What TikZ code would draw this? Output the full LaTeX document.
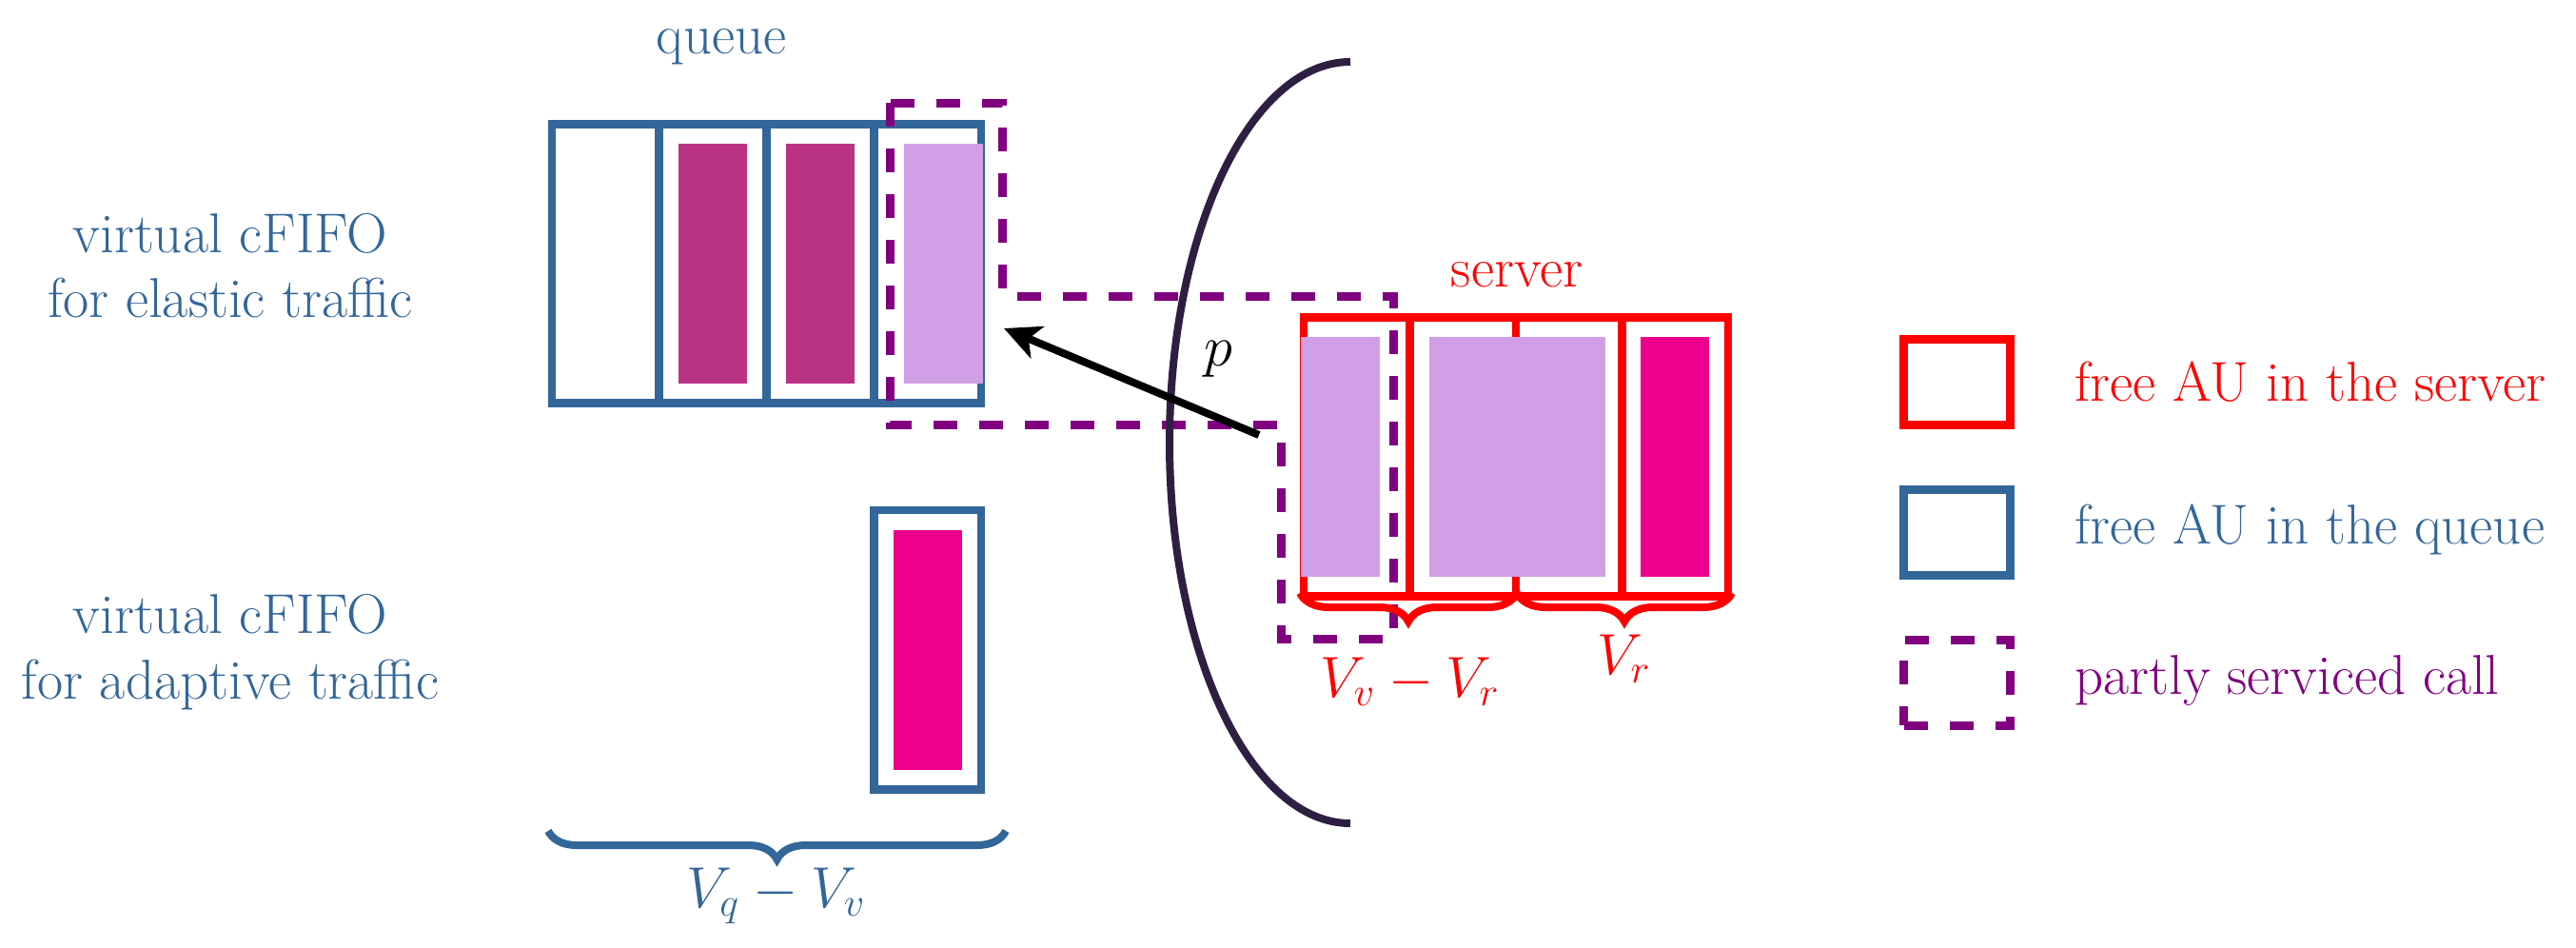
\documentclass[tikz,border=0pt]{standalone}
\usepackage{amsmath, amssymb}
\usepackage{xcolor}
\usepackage{tikz}
\usetikzlibrary{arrows.meta, decorations.pathreplacing}

\definecolor{qblue}{RGB}{51,102,153}
\definecolor{callmag}{RGB}{186,51,131}
\definecolor{partlil}{RGB}{209,159,230}
\definecolor{adapmag}{RGB}{236,0,140}
\definecolor{dashpur}{RGB}{128,0,128}
\definecolor{arcnavy}{RGB}{46,31,66}

\begin{document}
\begin{tikzpicture}[
            font=\fontsize{16.8pt}{19.5pt}\selectfont,
            qcell/.style={rectangle, draw=qblue, line width=0.087cm, minimum width=1.1275cm, minimum height=2.935cm, inner sep=0pt},
            scell/.style={rectangle, draw=red, line width=0.087cm, minimum width=1.115cm, minimum height=2.93cm, inner sep=0pt},
            callfill/.style={rectangle, fill=#1, minimum width=0.72cm, minimum height=2.52cm, inner sep=0pt},
            partfill/.style={rectangle, fill=partlil, minimum width=0.83cm, minimum height=2.52cm, inner sep=0pt},
            partly/.style={draw=dashpur, line width=0.09cm, dash pattern=on 0.25cm off 0.23cm},
            arrow/.style={->, >={Stealth[length=0.38cm, width=0.36cm, inset=0.1cm]}, line width=0.08cm},
            vbrace/.style={decorate, decoration={brace, mirror, amplitude=0.3cm}, line width=0.08cm},
            legbox/.style={rectangle, line width=0.087cm, minimum width=1.12cm, minimum height=0.9cm, inner sep=0pt}
        ]
            \useasboundingbox (0,0) rectangle (27.07,9.95);

            % queue
            \node[qcell] (q1) at (6.364,7.18)  {};
            \node[qcell] (q2) at (7.4915,7.18) {};
            \node[qcell] (q3) at (8.619,7.18)  {};
            \node[qcell] (q4) at (9.7465,7.18) {};
            \node[callfill=callmag] (c2) at (7.4915,7.18) {};
            \node[callfill=callmag] (c3) at (8.619,7.18)  {};
            \node[partfill] (pq) at (9.915,7.18) {};

            \node[qcell] (a1) at (9.7465,3.1225) {};
            \node[callfill=adapmag] (ca) at (9.7465,3.1225) {};

            % server
            \node[scell] (s1) at (14.2575,5.15) {};
            \node[scell] (s2) at (15.3725,5.15) {};
            \node[scell] (s3) at (16.4875,5.15) {};
            \node[scell] (s4) at (17.6025,5.15) {};
            \node[partfill] (ps) at (14.085,5.15) {};
            \node[callfill=partlil, minimum width=1.85cm] (cs) at (15.945,5.15) {};
            \node[callfill=adapmag] (c4) at (17.6025,5.15) {};

            \draw[partly] (9.355,8.865) -- (10.535,8.865) -- (10.535,6.835) -- (14.645,6.835)
                -- (14.645,3.235) -- (13.465,3.235) -- (13.465,5.485) -- (9.355,5.485) -- cycle;

            \draw[arcnavy, line width=0.08cm] (14.19,9.30) arc[start angle=90, end angle=270, x radius=1.9cm, y radius=4.0cm];

            \coordinate (ptail) at (13.23,5.38);
            \coordinate (phead) at (10.55,6.50);
            \draw[arrow] (ptail) -- (phead);
            \node (plbl) at (12.80,6.18) {$p$};

            % labels
            \node[text=qblue, anchor=base] (qlbl) at (7.58,9.38) {queue};
            \node[text=red, anchor=base] (slbl) at (15.94,6.94) {server};
            \node[text=qblue, align=center] (elab) at (2.42,7.16) {virtual cFIFO\\for elastic traffic};
            \node[text=qblue, align=center] (alab) at (2.42,3.10) {virtual cFIFO\\for adaptive traffic};

            \draw[vbrace, draw=red] (13.66,3.72) -- (15.94,3.72);
            \draw[vbrace, draw=red] (15.94,3.72) -- (18.20,3.72);
            \draw[vbrace, draw=qblue] (5.76,1.22) -- (10.57,1.22);
            \node[text=red, anchor=base] (vvr) at (14.82,2.63) {$V_v - V_r$};
            \node[text=red, anchor=base] (vr) at (17.07,2.87) {$V_r$};
            \node[text=qblue, anchor=base] (vqv) at (8.16,0.42) {$V_q - V_v$};

            % legend
            \node[legbox, draw=red] (lsrv) at (20.565,5.935) {};
            \node[legbox, draw=qblue] (lque) at (20.565,4.355) {};
            \node[legbox, partly] (lpart) at (20.565,2.78) {};
            \node[text=red, anchor=base west] (tsrv) at (21.68,5.74) {free AU in the server};
            \node[text=qblue, anchor=base west] (tque) at (21.68,4.24) {free AU in the queue};
            \node[text=dashpur, anchor=base west] (tpart) at (21.68,2.66) {partly serviced call};
        \end{tikzpicture}
\end{document}
